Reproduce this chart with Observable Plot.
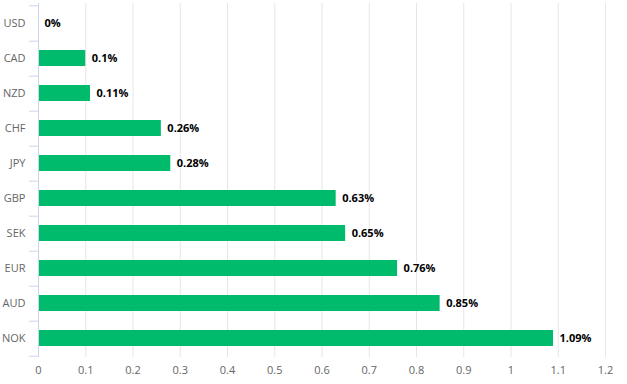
<!DOCTYPE html>
<html>
<head>
<meta charset="utf-8">
<script src="https://cdn.jsdelivr.net/npm/d3@7"></script>
<script src="https://cdn.jsdelivr.net/npm/@observablehq/plot@0.6"></script>
<style>
  html, body { margin: 0; padding: 0; background: #fff; }
  #chart svg { display: block; }
</style>
</head>
<body>
<div id="chart"></div>
<script>
const currencies = ["USD", "CAD", "NZD", "CHF", "JPY", "GBP", "SEK", "EUR", "AUD", "NOK"];
const changes = [0, 0.1, 0.11, 0.26, 0.28, 0.63, 0.65, 0.76, 0.85, 1.09];
const labels = ["0%", "0.1%", "0.11%", "0.26%", "0.28%", "0.63%", "0.65%", "0.76%", "0.85%", "1.09%"];
const xTicks = [0, 0.1, 0.2, 0.3, 0.4, 0.5, 0.6, 0.7, 0.8, 0.9, 1, 1.1, 1.2];

const data = currencies.map((c, i) => ({currency: c, value: changes[i], label: labels[i]}));

const W = 627, H = 384;
const mTop = 3, mBottom = 27, mLeft = 38, mRight = 22;
const step = (H - mTop - mBottom) / currencies.length;
const font = "'Open Sans', 'DejaVu Sans', sans-serif";

const chart = Plot.plot({
  width: W,
  height: H,
  marginTop: mTop,
  marginBottom: mBottom,
  marginLeft: mLeft,
  marginRight: mRight,
  style: {fontFamily: font, fontSize: "11px", background: "#fff"},
  x: {domain: [0, 1.2], ticks: xTicks, axis: null, label: null},
  y: {domain: currencies, paddingInner: 0.55, paddingOuter: 0.275, axis: null, label: null},
  marks: [
    Plot.gridX(xTicks, {stroke: "#e6e6e6", strokeOpacity: 1}),
    Plot.axisX(xTicks, {tickSize: 0, tickPadding: 9, label: null, tickFormat: d => d3.format("~g")(d), fill: "#666666", fontSize: 11}),
    Plot.barX(data, {x: "value", y: "currency", fill: "#00bb6b"}),
    Plot.ruleX([0], {stroke: "#ccd6eb"}),
    Plot.axisY(currencies, {tickSize: 9, dy: step / 2, text: null, label: null, stroke: "#ccd6eb", tickPadding: 0}),
    Plot.axisY([currencies[0]], {tickSize: 9, dy: -step / 2, text: null, label: null, stroke: "#ccd6eb", tickPadding: 0}),
    Plot.axisY(currencies, {tickSize: 0, tickPadding: 13, label: null, fill: "#666666", fontSize: 11}),
    Plot.text(data, {x: "value", y: "currency", text: "label", textAnchor: "start", dx: 6, fill: "#000", fontWeight: "bold", fontSize: 11, stroke: "#fff", strokeWidth: 1.5})
  ]
});
document.getElementById("chart").appendChild(chart);
</script>
</body>
</html>
